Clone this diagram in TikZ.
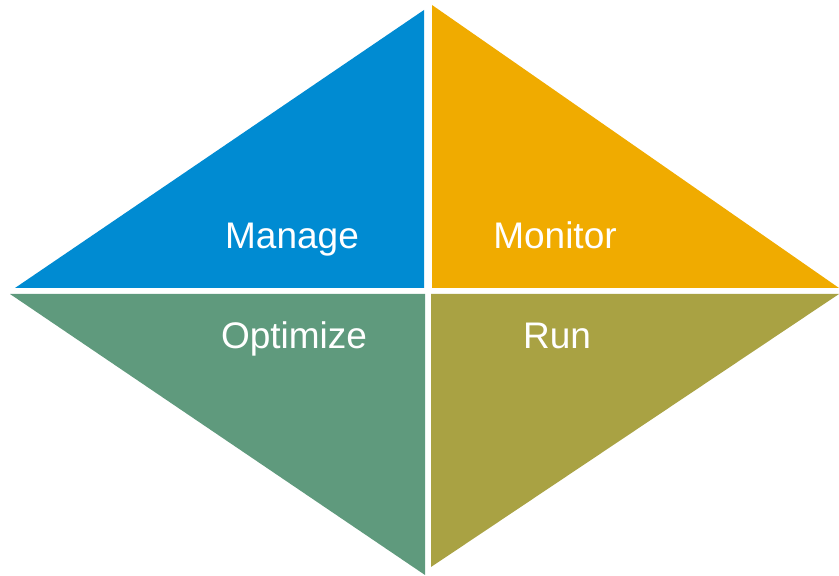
\documentclass[tikz,border=0pt]{standalone}
\usepackage{fontspec}
\setmainfont{Liberation Sans}
\usepackage{tikz}
\usepackage{xcolor}
\definecolor{manageblue}{HTML}{008BD2}
\definecolor{monitororange}{HTML}{F0AB00}
\definecolor{optimizegreen}{HTML}{5F9A7D}
\definecolor{runolive}{HTML}{A9A243}
\tikzstyle{quadlabel}=[text=white,font=\fontsize{37}{43}\selectfont,inner sep=0pt,anchor=base]
\begin{document}
\begin{tikzpicture}[x=1pt,y=1pt]
	\useasboundingbox (0,0) rectangle (839,576);
	\fill[manageblue] (15,288) -- (424,566) -- (424,288) -- cycle;
	\fill[monitororange] (432,571) -- (432,288) -- (839,288) -- cycle;
	\fill[optimizegreen] (10,282) -- (425,282) -- (425,1) -- cycle;
	\fill[runolive] (431,282) -- (839,282) -- (431,9) -- cycle;
	\node[quadlabel] (manage) at (292,327) {Manage};
	\node[quadlabel] (monitor) at (555,327) {Monitor};
	\node[quadlabel] (optimize) at (294,227) {Optimize};
	\node[quadlabel] (run) at (557,227) {Run};
\end{tikzpicture}
\end{document}
